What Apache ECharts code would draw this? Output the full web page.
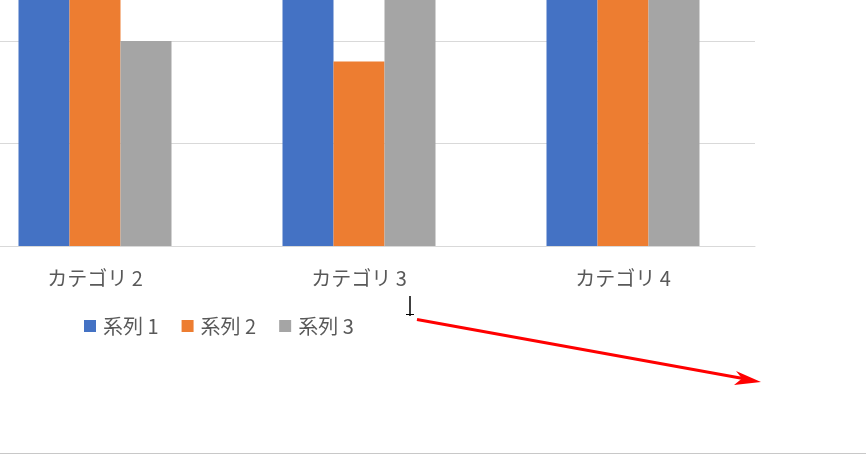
<!DOCTYPE html>
<html><head><meta charset="utf-8">
<script src="https://cdn.jsdelivr.net/npm/echarts@6/dist/echarts.min.js"></script>
<style>html,body{margin:0;padding:0;background:#fff}#c{width:866px;height:455px}</style>
</head><body><div id="c"></div>
<script>
const categories = ['カテゴリ 1', 'カテゴリ 2', 'カテゴリ 3', 'カテゴリ 4'];
const seriesNames = ['系列 1', '系列 2', '系列 3'];
const series1 = [4.3, 2.5, 3.5, 4.5];
const series2 = [2.4, 4.4, 1.8, 2.8];
const series3 = [2, 2, 3, 5];
const colors = ['#4472C4', '#ED7D31', '#A5A5A5'];
const yTicks = {min: 0, max: 6, interval: 1};

const font = '"Noto Sans CJK JP", "Noto Sans", sans-serif';
const chart = echarts.init(document.getElementById('c'));
const data = [series1, series2, series3];
chart.setOption({
  animation: false,
  color: colors,
  grid: {left: -301, right: 111, top: -369, height: 615, containLabel: false, outerBoundsMode: 'none'},
  legend: {
    data: seriesNames, left: 84, top: 314, padding: 0, icon: 'rect', itemWidth: 12, itemHeight: 12, itemGap: 23,
    textStyle: {fontFamily: font, fontSize: 20, color: '#595959', lineHeight: 24, padding: [0, 0, 0, 2]}
  },
  xAxis: {
    type: 'category', data: categories,
    axisLine: {lineStyle: {color: '#d9d9d9', width: 1}},
    axisTick: {show: false},
    axisLabel: {fontFamily: font, fontSize: 20, color: '#595959', margin: 22}
  },
  yAxis: {
    type: 'value', min: yTicks.min, max: yTicks.max, interval: yTicks.interval,
    axisLabel: {show: false}, axisLine: {show: false}, axisTick: {show: false},
    splitLine: {lineStyle: {color: '#d9d9d9', width: 1}}
  },
  series: seriesNames.map((n, i) => ({
    name: n, type: 'bar', data: data[i], barWidth: 51, barGap: '0%'
  })),
  graphic: [
    {type: 'line', shape: {x1: 0, y1: 453.5, x2: 866, y2: 453.5}, style: {stroke: '#c8c8c8', lineWidth: 1}, silent: true},
    {type: 'line', shape: {x1: 417, y1: 319.5, x2: 743, y2: 378.5}, style: {stroke: '#ff0000', lineWidth: 3}, silent: true},
    {type: 'polygon', shape: {points: [[761, 382], [736, 371], [742, 378.5], [734, 385]]}, style: {fill: '#ff0000'}, silent: true},
    {type: 'line', shape: {x1: 410, y1: 296, x2: 410, y2: 316}, style: {stroke: '#000', lineWidth: 1.5}, silent: true},
    {type: 'line', shape: {x1: 406, y1: 314.5, x2: 414, y2: 314.5}, style: {stroke: '#000', lineWidth: 1}, silent: true}
  ]
});
</script></body></html>
